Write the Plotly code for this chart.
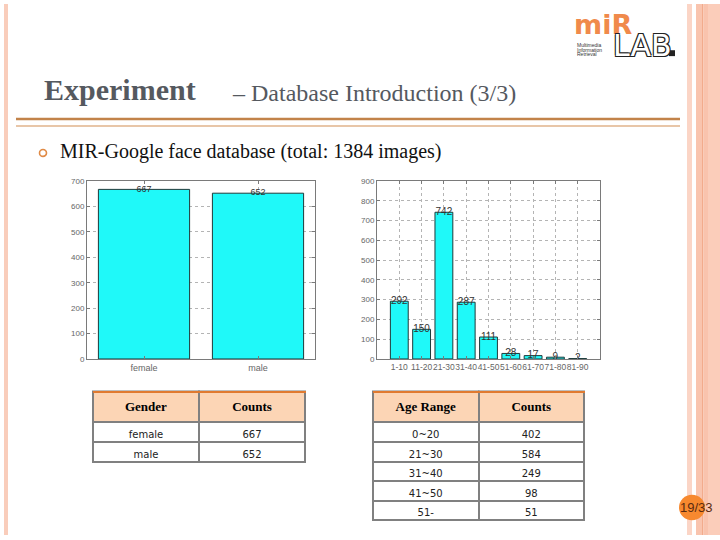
import plotly.graph_objects as go

# ---------------- data ----------------
gender_labels = ["female", "male"]
gender_counts = [667, 652]

age_bins = ["1-10", "11-20", "21-30", "31-40", "41-50", "51-60", "61-70", "71-80", "81-90"]
age_bin_counts = [292, 150, 742, 287, 111, 28, 17, 9, 2]

gender_table_header = ["Gender", "Counts"]
gender_table_names = ["female", "male"]
gender_table_counts = ["667", "652"]

age_table_header = ["Age Range", "Counts"]
age_ranges = ["0~20", "21~30", "31~40", "41~50", "51-"]
age_range_counts = ["402", "584", "249", "98", "51"]

gender_ticks = [0, 100, 200, 300, 400, 500, 600, 700]
age_ticks = [0, 100, 200, 300, 400, 500, 600, 700, 800, 900]

# ---------------- helpers ----------------
W, H = 720, 540


def px(x):
    return x / W


def py(y):
    return 1 - y / H


BAR_FILL = "#1ff9f9"
BAR_EDGE = "#1e3a3a"
AX = "#7a7a7a"
GRID = "#b4b4b4"

fig = go.Figure()

# ---------------- bar charts ----------------
fig.add_trace(go.Bar(x=gender_labels, y=gender_counts, width=0.8,
                     marker=dict(color=BAR_FILL, line=dict(color=BAR_EDGE, width=1)),
                     xaxis="x", yaxis="y", showlegend=False, hoverinfo="skip"))
fig.add_trace(go.Scatter(x=gender_labels, y=gender_counts, mode="text",
                         text=[str(v) for v in gender_counts], textposition="middle center",
                         textfont=dict(family="Liberation Sans", size=9, color="#333"),
                         xaxis="x", yaxis="y", showlegend=False, hoverinfo="skip"))

fig.add_trace(go.Bar(x=age_bins, y=age_bin_counts, width=0.8,
                     marker=dict(color=BAR_FILL, line=dict(color=BAR_EDGE, width=1)),
                     xaxis="x2", yaxis="y2", showlegend=False, hoverinfo="skip"))
fig.add_trace(go.Scatter(x=age_bins, y=age_bin_counts, mode="text",
                         text=[str(v) for v in age_bin_counts], textposition="middle center",
                         textfont=dict(family="Liberation Sans", size=10, color="#333"),
                         xaxis="x2", yaxis="y2", showlegend=False, hoverinfo="skip"))


def axis_style(fs):
    return dict(showline=True, mirror="ticks", linecolor=AX, linewidth=1,
                ticks="inside", ticklen=3, tickcolor=AX,
                showgrid=True, gridcolor=GRID, griddash="dot", gridwidth=1,
                zeroline=False, tickangle=0,
                tickfont=dict(family="Liberation Sans", size=fs, color="#666"))


fig.update_layout(
    xaxis=dict(domain=[px(87), px(315)], anchor="y", type="category",
               range=[-0.5, 1.5], **axis_style(9)),
    yaxis=dict(domain=[py(361), py(180)], anchor="x", range=[0, 700],
               tickvals=gender_ticks, **axis_style(8)),
    xaxis2=dict(domain=[px(377), px(600)], anchor="y2", type="category",
                range=[-1, 9], **axis_style(8.5)),
    yaxis2=dict(domain=[py(361), py(180)], anchor="x2", range=[0, 900],
                tickvals=age_ticks, **axis_style(8)),
)

# ---------------- tables ----------------
HEADER_FILL = "#fcd5b5"
TLINE = dict(color="#808080", width=2)

fig.add_trace(go.Table(
    domain=dict(x=[px(93), px(306)], y=[py(500), py(394)]),
    columnwidth=[1, 1],
    header=dict(values=["<b>%s</b>" % h for h in gender_table_header],
                fill_color=HEADER_FILL, line=TLINE, height=21, align="center",
                font=dict(family="Liberation Serif", size=13, color="black")),
    cells=dict(values=[gender_table_names, gender_table_counts],
               fill_color="white", line=TLINE, height=19.7, align="center",
               font=dict(family="DejaVu Sans", size=10, color="#222"))))

fig.add_trace(go.Table(
    domain=dict(x=[px(373), px(585)], y=[py(539), py(394)]),
    columnwidth=[1, 1],
    header=dict(values=["<b>%s</b>" % h for h in age_table_header],
                fill_color=HEADER_FILL, line=TLINE, height=21, align="center",
                font=dict(family="Liberation Serif", size=13, color="black")),
    cells=dict(values=[age_ranges, age_range_counts],
               fill_color="white", line=TLINE, height=19.6, align="center",
               font=dict(family="DejaVu Sans", size=10, color="#222"))))

# ---------------- slide decoration ----------------
shapes = []


def rect(x0, x1, y0, y1, color):
    shapes.append(dict(type="rect", xref="paper", yref="paper",
                       x0=px(x0), x1=px(x1), y0=py(y1), y1=py(y0),
                       fillcolor=color, line=dict(width=0), layer="below"))


def hline(x0, x1, y, color, w):
    shapes.append(dict(type="line", xref="paper", yref="paper",
                       x0=px(x0), x1=px(x1), y0=py(y), y1=py(y),
                       line=dict(color=color, width=w)))


rect(4, 8, 0, 540, "#f9cdbb")
rect(687, 692, 0, 540, "#fbd5c6")
rect(696, 702, 0, 540, "#f9c4ae")
rect(702, 703.5, 0, 540, "#f2ab8c")
rect(703.5, 708, 0, 540, "#f9c3ad")
rect(708, 720, 0, 540, "#fbcdba")

hline(16, 680, 117, "#c2834a", 2.5)
hline(16, 680, 124, "#e8c6a8", 2)

# table top borders (orange)
hline(93, 306, 394.5, "#e07a30", 2)
hline(373, 585, 394.5, "#e07a30", 2)

# bullet ring
shapes.append(dict(type="circle", xref="paper", yref="paper",
                   x0=px(39.5), x1=px(46.5), y0=py(155), y1=py(148),
                   line=dict(color="#e08a45", width=1.6), fillcolor="white"))

# page number badge
shapes.append(dict(type="circle", xref="paper", yref="paper",
                   x0=px(679), x1=px(705), y0=py(525), y1=py(499),
                   line=dict(width=0), fillcolor="#f7892f"))

# logo dot
shapes.append(dict(type="rect", xref="paper", yref="paper",
                   x0=px(669), x1=px(675), y0=py(53), y1=py(47),
                   line=dict(width=0), fillcolor="#222"))

fig.update_layout(shapes=shapes)

ann = []


def text(x, y, s, size, color, family, xanchor="left", yanchor="middle", **kw):
    ann.append(dict(xref="paper", yref="paper", x=px(x), y=py(y), text=s,
                    showarrow=False, xanchor=xanchor, yanchor=yanchor,
                    font=dict(family=family, size=size, color=color), **kw))


text(42, 87, "<b>Experiment</b>", 30, "#55595f", "Liberation Serif")
text(230, 91, "– Database Introduction (3/3)", 24, "#55595f", "Liberation Serif")
text(58, 150, "MIR-Google face database (total: 1384 images)", 20, "#111", "Liberation Serif")
text(678, 512, "19/33", 13, "#5a2a10", "Liberation Sans")

# logo approximation
text(572, 21, "<b>miR</b>", 27, "#f08a4b", "DejaVu Sans")
text(611, 42, "LAB", 30, "white", "DejaVu Sans")
ann[-1]["font"]["shadow"] = "1px 1px 0 #222, -1px -1px 0 #222, 1px -1px 0 #222, -1px 1px 0 #222"
text(575, 42, "Multimedia", 5, "#333", "Liberation Sans")
text(575, 46.5, "Information", 5, "#333", "Liberation Sans")
text(575, 51, "Retrieval", 5, "#333", "Liberation Sans")

fig.update_layout(annotations=ann)

fig.update_layout(width=W, height=H, margin=dict(l=0, r=0, t=0, b=0),
                  paper_bgcolor="white", plot_bgcolor="white", bargap=0.2)

fig.write_html("out.html", config={"displayModeBar": False},
               post_script="document.body.style.margin='0px';")
